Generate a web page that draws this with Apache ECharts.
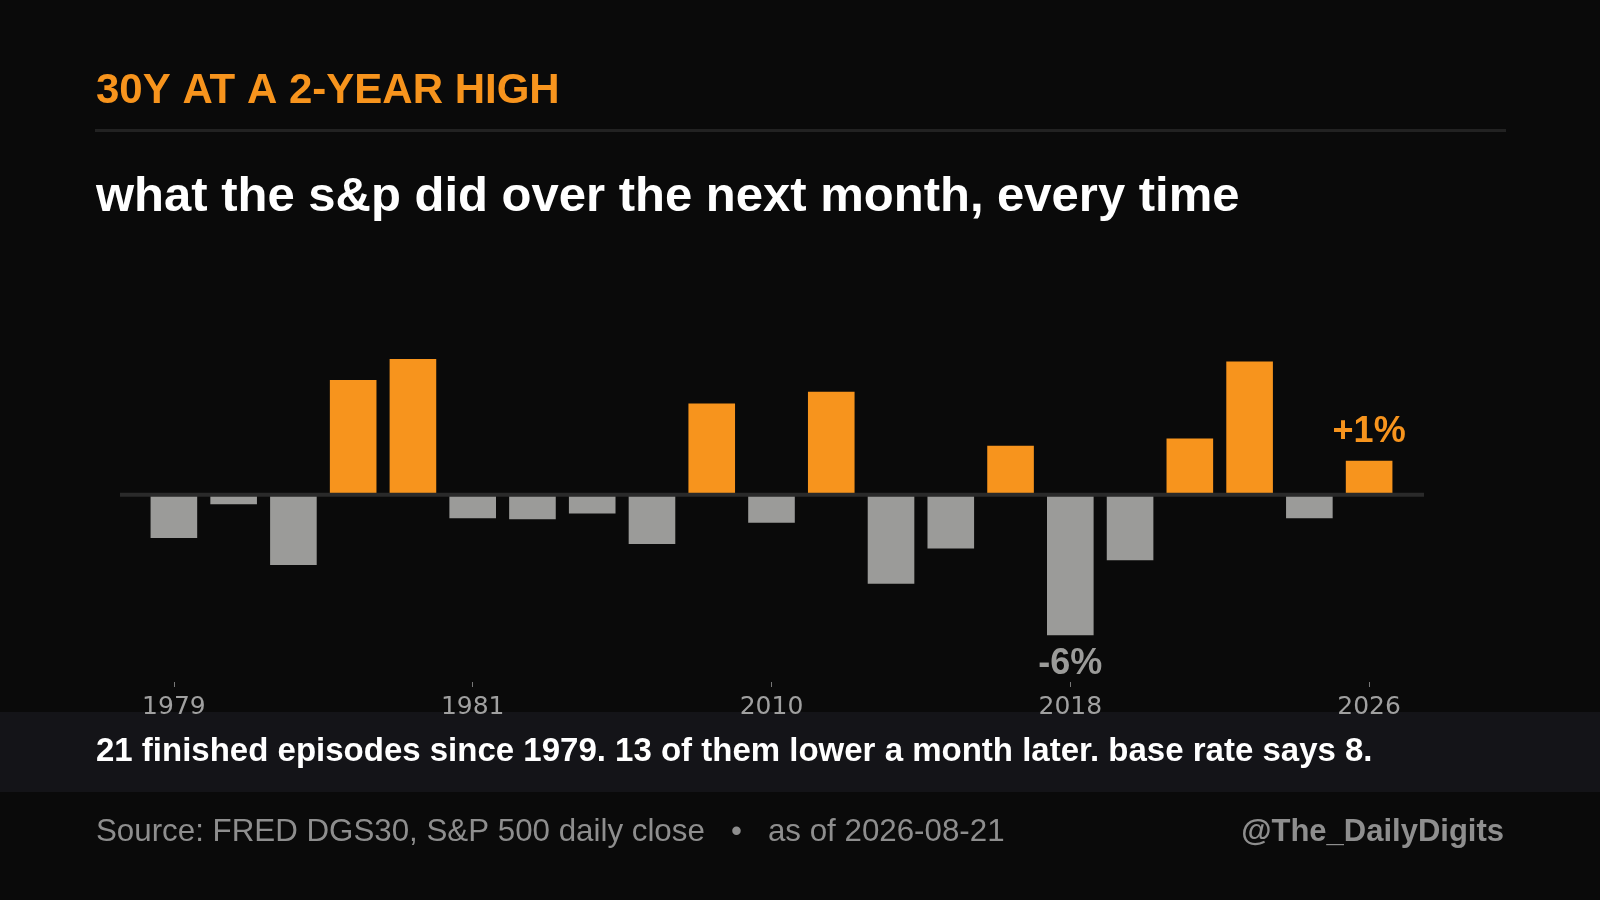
<!DOCTYPE html>
<html><head><meta charset="utf-8">
<script src="https://cdn.jsdelivr.net/npm/echarts@6/dist/echarts.min.js"></script>
<style>html,body{margin:0;background:#0a0a0a}#c{width:1600px;height:900px}</style>
</head><body><div id="c"></div>
<script>
const categories = ['1979','1980','1980','1980','1981','1981','1984','1987','1990','1996','2010','2011','2013','2014','2017','2018','2018','2022','2023','2024','2026'];
const values = [-1.85,-0.4,-3.0,4.9,5.8,-1.0,-1.05,-0.8,-2.1,3.9,-1.2,4.4,-3.8,-2.3,2.1,-6.0,-2.8,2.4,5.7,-1.0,1.45];
const labels = {15:'-6%', 20:'+1%'};
const F = '"Liberation Sans", Arial, sans-serif';
const ORANGE = '#f7941d', GRAY = '#9b9b99';
const data = values.map((v,i)=>{
  const c = v>=0?ORANGE:GRAY;
  const d = {value:v, itemStyle:{color:c}};
  if (labels[i]) d.label = {show:true, formatter:labels[i], position: v>=0?'top':'bottom', color:c, fontSize:36, fontWeight:'bold', fontFamily:F, distance:11};
  return d;
});
const chart = echarts.init(document.getElementById('c'));
const opt = {
  backgroundColor:'#0a0a0a',
  animation:false,
  grid:{left:144, right:201, top:345, height:337},
  xAxis:{type:'category', data:categories,
    axisLine:{show:false,onZero:false},
    axisTick:{show:true, interval:4, alignWithLabel:true, length:5, lineStyle:{color:'#777'}},
    axisLabel:{interval:4, color:'#a0a0a0', fontSize:25, fontFamily:'"DejaVu Sans", sans-serif', margin:13}},
  yAxis:{type:'value', min:-8, max:6.4, show:false, splitLine:{show:false}},
  series:[{type:'bar', data:data, barWidth:'78%', z:3}],
  graphic:[
    {type:'text', left:96, top:70, style:{text:'30Y AT A 2-YEAR HIGH', fill:ORANGE, font:'bold 42px '+F}},
    {type:'rect', shape:{x:95,y:129,width:1411,height:3}, style:{fill:'#222'}},
    {type:'text', left:96, top:173, style:{text:'what the s&p did over the next month, every time', fill:'#fff', font:'bold 49px '+F}},
    {type:'rect', shape:{x:0,y:712,width:1600,height:80}, style:{fill:'#141418'}},
    {type:'text', left:96, top:735, style:{text:'21 finished episodes since 1979. 13 of them lower a month later. base rate says 8.', fill:'#fff', font:'bold 33px '+F}},
    {type:'text', left:96, top:817, style:{text:'Source: FRED DGS30, S&P 500 daily close   \u2022   as of 2026-08-21', fill:'#8e8e8e', font:'31.3px '+F}},
    {type:'text', right:96, top:817, style:{text:'@The_DailyDigits', fill:'#8e8e8e', font:'bold 31px '+F}}
  ]
};
chart.setOption(opt);
const y0 = chart.convertToPixel({yAxisIndex:0}, 0);
opt.graphic.push({type:'rect', z:10, shape:{x:120, y:y0-2, width:1304, height:4}, style:{fill:'#2a2a2a'}});
chart.setOption({graphic:opt.graphic});
</script></body></html>
